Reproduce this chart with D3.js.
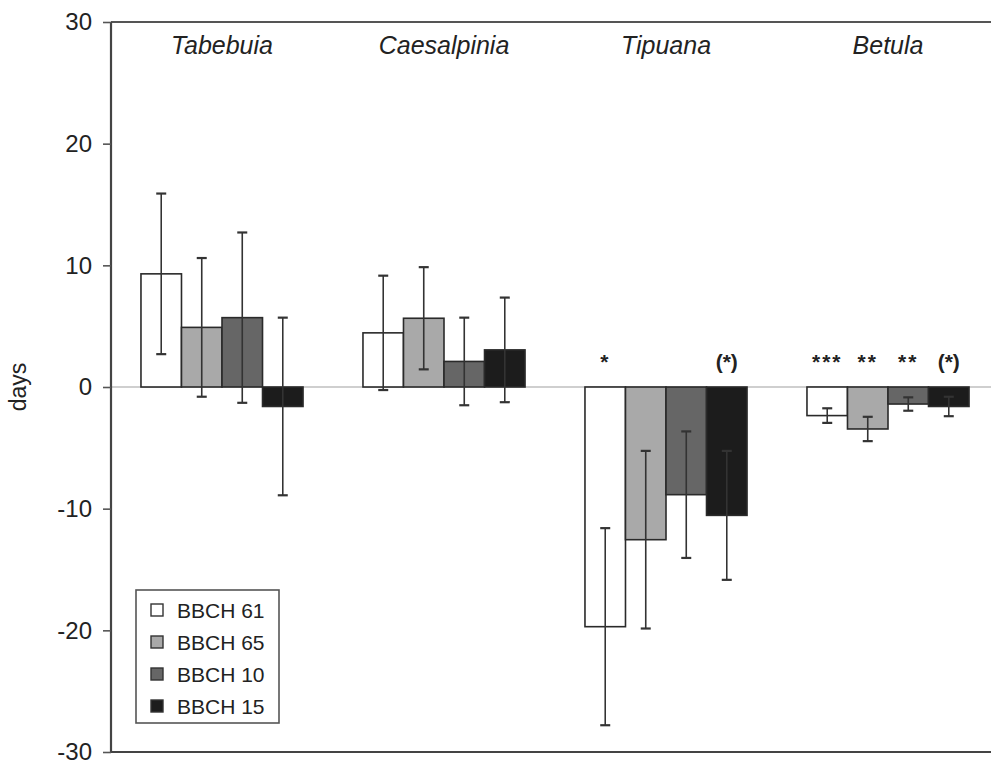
<!DOCTYPE html>
<html>
<head>
<meta charset="utf-8">
<script src="https://cdn.jsdelivr.net/npm/d3@7.9.0/dist/d3.min.js"></script>
<style>
  body { margin: 0; background: #fff; }
  svg { display: block; font-family: "Liberation Sans", Arial, sans-serif; }
</style>
</head>
<body>
<svg width="991" height="765"></svg>
<script>
// data
const genera = ['Tabebuia', 'Caesalpinia', 'Tipuana', 'Betula'];
const stages = ['BBCH 61', 'BBCH 65', 'BBCH 10', 'BBCH 15'];

const bbch61 = [9.3, 4.45, -19.7, -2.35];
const bbch65 = [4.9, 5.65, -12.55, -3.45];
const bbch10 = [5.7, 2.1, -8.85, -1.4];
const bbch15 = [-1.6, 3.05, -10.55, -1.6];

const err61 = [6.6, 4.7, 8.1, 0.6];
const err65 = [5.7, 4.2, 7.3, 1.0];
const err10 = [7.0, 3.6, 5.2, 0.55];
const err15 = [7.3, 4.3, 5.3, 0.8];

const sig61 = ['', '', '*', '***'];
const sig65 = ['', '', '', '**'];
const sig10 = ['', '', '', '**'];
const sig15 = ['', '', '(*)', '(*)'];

const yTicks = [30, 20, 10, 0, -10, -20, -30];
const fills = ['#ffffff', '#a9a9a9', '#666666', '#1c1c1c'];

const means = [bbch61, bbch65, bbch10, bbch15];
const errs = [err61, err65, err10, err15];
const sigs = [sig61, sig65, sig10, sig15];

const svg = d3.select('svg');
const mLeft = 111, mTop = 22, mBottom = 752;

const x = d3.scaleBand().domain(genera).range([mLeft, mLeft + 888])
  .paddingInner(0.27).paddingOuter(0.135);
const xs = d3.scaleBand().domain(stages).range([0, x.bandwidth()]);
const y = d3.scaleLinear().domain([-30, 30]).range([mBottom, mTop]);

const rows = [];
genera.forEach((g, gi) => {
  stages.forEach((s, si) => {
    rows.push({ g, s, si, v: means[si][gi], e: errs[si][gi], sig: sigs[si][gi] });
  });
});

// zero line
svg.append('line')
  .attr('x1', mLeft).attr('x2', 991)
  .attr('y1', y(0)).attr('y2', y(0))
  .attr('stroke', '#cfcfcf').attr('stroke-width', 2);

// bars
svg.append('g').selectAll('rect').data(rows).join('rect')
  .attr('x', d => x(d.g) + xs(d.s))
  .attr('width', xs.bandwidth())
  .attr('y', d => y(Math.max(0, d.v)))
  .attr('height', d => Math.abs(y(d.v) - y(0)))
  .attr('fill', d => fills[d.si])
  .attr('stroke', '#2a2a2a').attr('stroke-width', 1.6);

// error bars
const eb = svg.append('g').attr('stroke', '#333').attr('stroke-width', 1.6);
rows.forEach(d => {
  const cx = x(d.g) + xs(d.s) + xs.bandwidth() / 2;
  eb.append('line').attr('x1', cx).attr('x2', cx)
    .attr('y1', y(d.v + d.e)).attr('y2', y(d.v - d.e));
  [d.v + d.e, d.v - d.e].forEach(v => {
    eb.append('line').attr('x1', cx - 5).attr('x2', cx + 5)
      .attr('y1', y(v)).attr('y2', y(v)).attr('stroke-width', 2.2);
  });
});

// significance marks
svg.append('g').selectAll('text').data(rows.filter(d => d.sig)).join('text')
  .attr('x', d => x(d.g) + xs(d.s) + xs.bandwidth() / 2)
  .attr('y', 369)
  .attr('text-anchor', 'middle')
  .attr('font-size', 21)
  .attr('font-weight', 'bold')
  .attr('letter-spacing', d => d.sig.startsWith('(') ? 0 : 2)
  .attr('fill', '#222')
  .text(d => d.sig);

// frame
svg.append('line').attr('x1', mLeft).attr('x2', 991).attr('y1', mTop).attr('y2', mTop)
  .attr('stroke', '#555').attr('stroke-width', 2.2);
svg.append('line').attr('x1', mLeft).attr('x2', 991).attr('y1', mBottom).attr('y2', mBottom)
  .attr('stroke', '#444').attr('stroke-width', 2.2);

// y axis
const yAxis = svg.append('g').attr('transform', `translate(${mLeft},0)`)
  .call(d3.axisLeft(y).tickValues(yTicks).tickSize(8).tickPadding(11).tickFormat(d3.format('d')));
yAxis.select('.domain').attr('stroke', '#444').attr('stroke-width', 2.2)
  .attr('d', `M0,${mTop}V${mBottom}`);
yAxis.selectAll('.tick line').attr('stroke', '#555').attr('stroke-width', 1.6);
yAxis.selectAll('.tick text').attr('font-size', 24).attr('fill', '#222')
  .attr('font-family', '"Liberation Sans", Arial, sans-serif')
  .text(d => d < 0 ? '-' + Math.abs(d) : d);

svg.append('text')
  .attr('transform', `translate(26,${y(0)}) rotate(-90)`)
  .attr('text-anchor', 'middle')
  .attr('font-size', 23).attr('fill', '#222')
  .text('days');

// genus titles
svg.append('g').selectAll('text').data(genera).join('text')
  .attr('x', d => x(d) + x.bandwidth() / 2)
  .attr('y', 54)
  .attr('text-anchor', 'middle')
  .attr('font-size', 25).attr('font-style', 'italic').attr('fill', '#222')
  .text(d => d);

// legend
const lg = svg.append('g');
lg.append('rect').attr('x', 136).attr('y', 590).attr('width', 143).attr('height', 133)
  .attr('fill', '#fff').attr('stroke', '#555').attr('stroke-width', 1.6);
stages.forEach((s, i) => {
  const cy = 610 + i * 32;
  lg.append('rect').attr('x', 151).attr('y', cy - 6).attr('width', 12).attr('height', 12)
    .attr('fill', fills[i]).attr('stroke', '#333').attr('stroke-width', 1.4);
  lg.append('text').attr('x', 177).attr('y', cy + 8)
    .attr('font-size', 21).attr('fill', '#222').text(s);
});
</script>
</body>
</html>
